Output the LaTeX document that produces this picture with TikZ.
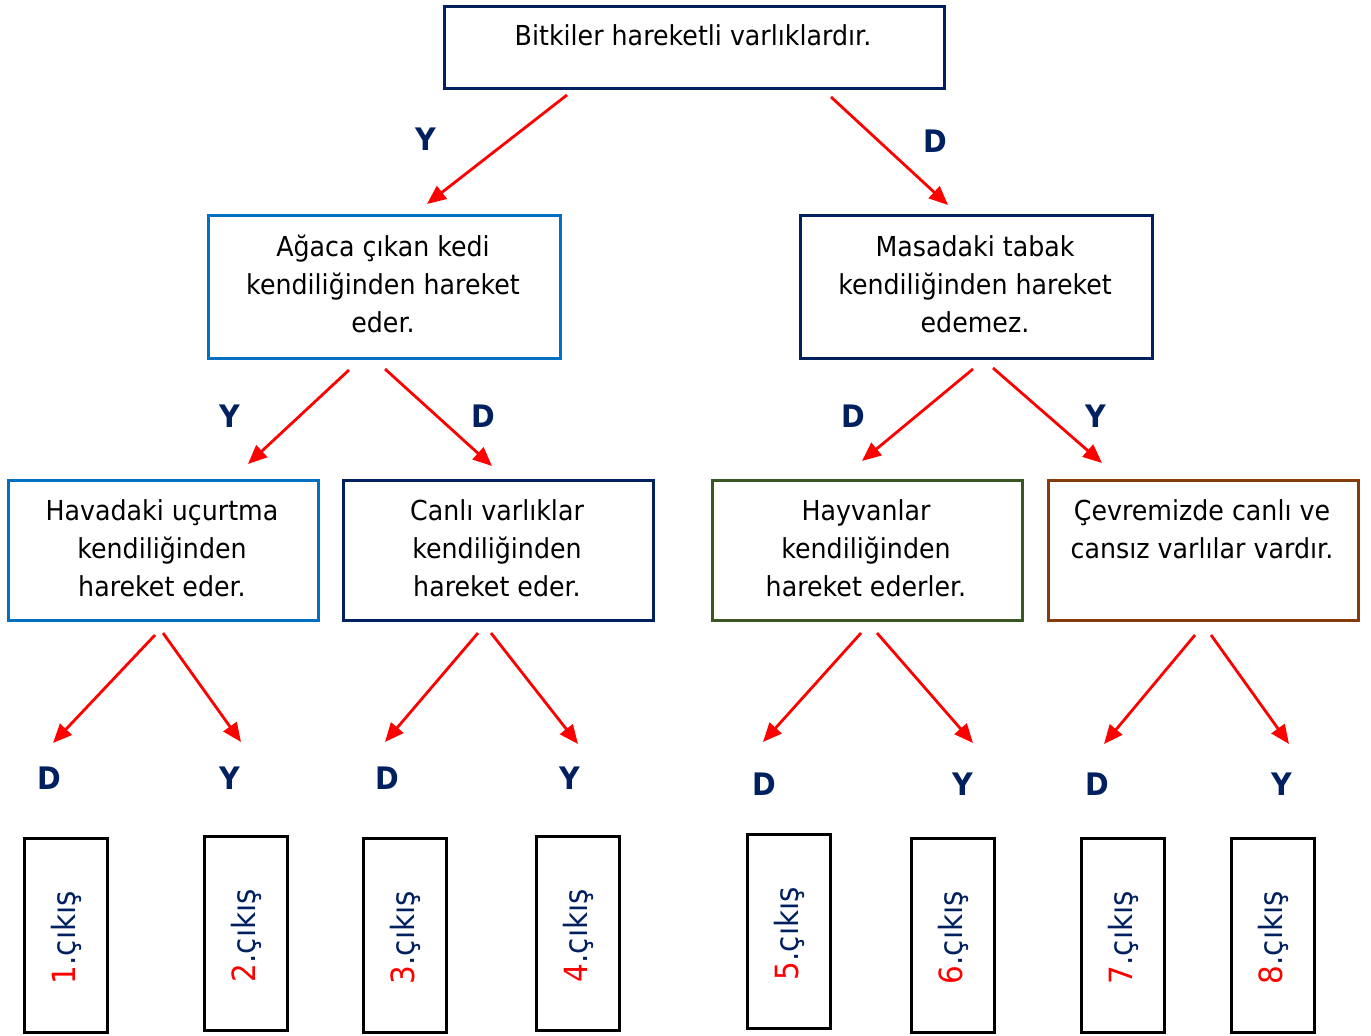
\documentclass[tikz,border=0pt]{standalone}
\usepackage{fontspec}
\setmainfont{DejaVu Sans}[FakeStretch=0.92]
\usetikzlibrary{arrows.meta}
\definecolor{navy}{HTML}{002060}
\definecolor{bblue}{HTML}{0070C0}
\definecolor{bgreen}{HTML}{385723}
\definecolor{bbrown}{HTML}{843C0C}
\tikzset{
  box/.style={draw, line width=3pt, anchor=north west, inner sep=0pt},
  txt/.style={align=center, inner sep=0pt, font=\fontsize{27.5}{38}\selectfont},
  lab/.style={inner sep=0pt, text=navy, font=\fontsize{31}{32}\selectfont\bfseries},
  arr/.style={draw=red, line width=2.8pt, -{Triangle[length=19pt,width=16pt]}},
  outbox/.style={draw=black, line width=3.2pt, anchor=north west, inner sep=0pt, minimum width=83pt, minimum height=194pt},
  outtxt/.style={rotate=90, inner sep=0pt, text=navy, font=\fontsize{32}{34}\selectfont}
}
\begin{document}
\begin{tikzpicture}[x=1pt,y=-1pt]
\useasboundingbox (0,0) rectangle (1371,1036);
% boxes
\node[box, draw=navy, minimum width=500pt, minimum height=82pt] (b0) at (443,5) {};
\node[txt, anchor=base] (t0) at (693,45) {Bitkiler hareketli varlıklardır.};
\node[box, draw=bblue, minimum width=352pt, minimum height=143pt] (b1) at (207,214) {};
\node[txt] (t1) at (383,284) {Ağaca çıkan kedi\\kendiliğinden hareket\\eder.};
\node[box, draw=navy, minimum width=352pt, minimum height=143pt] (b2) at (799,214) {};
\node[txt] (t2) at (975,284) {Masadaki tabak\\kendiliğinden hareket\\edemez.};
\node[box, draw=bblue, minimum width=310pt, minimum height=140pt] (b3) at (7,479) {};
\node[txt] (t3) at (162,548) {Havadaki uçurtma\\kendiliğinden\\hareket eder.};
\node[box, draw=navy, minimum width=310pt, minimum height=140pt] (b4) at (342,479) {};
\node[txt] (t4) at (497,548) {Canlı varlıklar\\kendiliğinden\\hareket eder.};
\node[box, draw=bgreen, minimum width=310pt, minimum height=140pt] (b5) at (711,479) {};
\node[txt] (t5) at (866,548) {Hayvanlar\\kendiliğinden\\hareket ederler.};
\node[box, draw=bbrown, minimum width=310pt, minimum height=140pt] (b6) at (1047,479) {};
\node[txt] (t6) at (1202,529) {Çevremizde canlı ve\\cansız varlılar vardır.};
% arrow coordinates
\coordinate (a1s) at (567,95);  \coordinate (a1e) at (427,204);
\coordinate (a2s) at (831,97);  \coordinate (a2e) at (948,205);
\coordinate (a3s) at (349,370); \coordinate (a3e) at (248,464);
\coordinate (a4s) at (385,369); \coordinate (a4e) at (492,466);
\coordinate (a5s) at (973,369); \coordinate (a5e) at (862,461);
\coordinate (a6s) at (993,368); \coordinate (a6e) at (1102,463);
\coordinate (c1s) at (155,635); \coordinate (c1e) at (53,743);
\coordinate (c2s) at (163,633); \coordinate (c2e) at (241,742);
\coordinate (c3s) at (478,633); \coordinate (c3e) at (385,742);
\coordinate (c4s) at (491,633); \coordinate (c4e) at (578,744);
\coordinate (c5s) at (861,633); \coordinate (c5e) at (763,742);
\coordinate (c6s) at (877,633); \coordinate (c6e) at (973,743);
\coordinate (c7s) at (1195,635); \coordinate (c7e) at (1104,744);
\coordinate (c8s) at (1211,635); \coordinate (c8e) at (1289,744);
\foreach \a in {a1,a2,a3,a4,a5,a6,c1,c2,c3,c4,c5,c6,c7,c8}
  \draw[arr] (\a s) -- (\a e);
% labels
\node[lab] (l1) at (426,139) {Y};
\node[lab] (l2) at (935,141) {D};
\node[lab] (l3) at (230,416) {Y};
\node[lab] (l4) at (483,416) {D};
\node[lab] (l5) at (853,416) {D};
\node[lab] (l6) at (1096,416) {Y};
\node[lab] (m1) at (49,778) {D};
\node[lab] (m2) at (230,778) {Y};
\node[lab] (m3) at (387,778) {D};
\node[lab] (m4) at (570,778) {Y};
\node[lab] (m5) at (764,784) {D};
\node[lab] (m6) at (963,784) {Y};
\node[lab] (m7) at (1097,784) {D};
\node[lab] (m8) at (1282,784) {Y};
% exit boxes
\node[outbox] (o1) at (23,837) {};
\node[outbox] (o2) at (203,835) {};
\node[outbox] (o3) at (362,837) {};
\node[outbox] (o4) at (535,835) {};
\node[outbox] (o5) at (746,833) {};
\node[outbox] (o6) at (910,837) {};
\node[outbox] (o7) at (1080,837) {};
\node[outbox] (o8) at (1230,837) {};
\foreach \i in {1,...,8}
  \node[outtxt] (x\i) at ([yshift=-2pt]o\i.center) {\textcolor{red}{\i}.çıkış};
\end{tikzpicture}
\end{document}
